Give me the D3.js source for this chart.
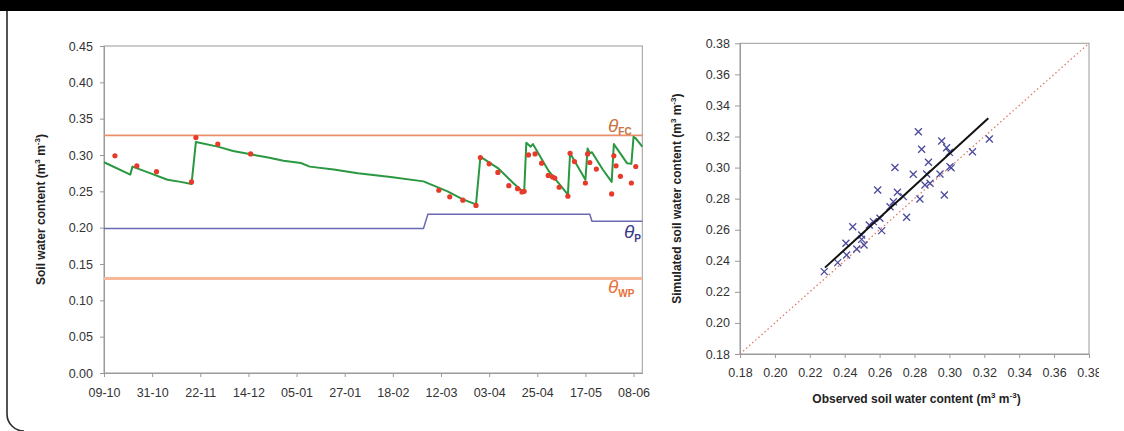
<!DOCTYPE html>
<html>
<head>
<meta charset="utf-8">
<script src="https://cdn.jsdelivr.net/npm/d3@7"></script>
<style>
  body { margin: 0; background: #fff; }
  svg { display: block; font-family: "Liberation Sans", Arial, sans-serif; }
  .axis text { font-family: "Liberation Sans", Arial, sans-serif; font-size: 12.5px; fill: #333; }
  .axis path, .axis line { stroke: #9a9a9a; }
  .title { font-size: 12px; font-weight: bold; fill: #222; }
</style>
</head>
<body>
<svg id="chart" width="1124" height="431"></svg>
<script>
// ============================================
// Soil water content: time series + simulated vs observed
// ============================================

const parseDay = d3.timeParse('%Y-%m-%d');

// x tick dates of the time series (every 22 days)
const timeTicks = ['2006-10-09', '2006-10-31', '2006-11-22', '2006-12-14', '2007-01-05', '2007-01-27',
    '2007-02-18', '2007-03-12', '2007-04-03', '2007-04-25', '2007-05-17', '2007-06-08'];
const timeDomain = ['2006-10-09', '2007-06-12'];

// simulated soil water content (green line)
const simDates = ['2006-10-09', '2006-10-21', '2006-10-22', '2006-10-30', '2006-11-07', '2006-11-13',
    '2006-11-18', '2006-11-20', '2006-11-30', '2006-12-07', '2006-12-15', '2006-12-23', '2006-12-30',
    '2007-01-07', '2007-01-11', '2007-01-22', '2007-02-02', '2007-02-17', '2007-03-04', '2007-03-15',
    '2007-03-22', '2007-03-28', '2007-03-30', '2007-03-31', '2007-04-07', '2007-04-14', '2007-04-19',
    '2007-04-20', '2007-04-22', '2007-04-23', '2007-04-30', '2007-05-04', '2007-05-09', '2007-05-10',
    '2007-05-17', '2007-05-18', '2007-05-19', '2007-05-20', '2007-05-25', '2007-05-29', '2007-05-30',
    '2007-06-05', '2007-06-07', '2007-06-08', '2007-06-09', '2007-06-12'];
const simValues = [0.290, 0.273, 0.284, 0.275, 0.266, 0.263,
    0.260, 0.318, 0.3115, 0.3056, 0.301, 0.2965, 0.292,
    0.289, 0.284, 0.280, 0.275, 0.2697, 0.2637, 0.250,
    0.239, 0.232, 0.297, 0.2956, 0.282, 0.2615, 0.248,
    0.317, 0.3115, 0.315, 0.279, 0.264, 0.2456, 0.3024,
    0.266, 0.309, 0.3024, 0.3038, 0.2797, 0.263, 0.315,
    0.2888, 0.2878, 0.325, 0.323, 0.3115];

// observed soil water content (red dots)
const obsDates = ['2006-10-14', '2006-10-24', '2006-11-02', '2006-11-18', '2006-11-20', '2006-11-30',
    '2006-12-15', '2007-03-11', '2007-03-16', '2007-03-22', '2007-03-28', '2007-03-30', '2007-04-03',
    '2007-04-07', '2007-04-12', '2007-04-16', '2007-04-18', '2007-04-19', '2007-04-21', '2007-04-24',
    '2007-04-27', '2007-04-30', '2007-05-02', '2007-05-03', '2007-05-05', '2007-05-09', '2007-05-10',
    '2007-05-12', '2007-05-17', '2007-05-18', '2007-05-19', '2007-05-22', '2007-05-29', '2007-05-30',
    '2007-05-31', '2007-06-02', '2007-06-07', '2007-06-09'];
const obsValues = [0.299, 0.285, 0.277, 0.263, 0.324, 0.315,
    0.3015, 0.2515, 0.2424, 0.2378, 0.2306, 0.2965, 0.2878,
    0.276, 0.2578, 0.2537, 0.2492, 0.250, 0.3001, 0.3015,
    0.2888, 0.2719, 0.2697, 0.2683, 0.2556, 0.2433, 0.3024,
    0.291, 0.2615, 0.3015, 0.2897, 0.2806, 0.2465, 0.2988,
    0.2851, 0.2706, 0.2615, 0.2842];

// reference levels: field capacity, wilting point, and the stepped threshold
const thetaFC = 0.327;
const thetaWP = 0.130;
const thetaPDates = ['2006-10-09', '2007-03-04', '2007-03-06', '2007-05-19', '2007-05-20', '2007-06-12'];
const thetaPValues = [0.199, 0.199, 0.2185, 0.2185, 0.209, 0.209];

// scatter: observed vs simulated
const scatterObs = [0.2283, 0.236, 0.2411, 0.2407, 0.2446, 0.2469, 0.2497, 0.2511, 0.2497, 0.2541,
    0.2564, 0.2602, 0.2612, 0.2589, 0.266, 0.2679, 0.2702, 0.2736, 0.2755, 0.2688,
    0.2793, 0.2831, 0.2822, 0.2841, 0.286, 0.2889, 0.287, 0.288, 0.2946, 0.2971,
    0.2956, 0.2984, 0.300, 0.3003, 0.3010, 0.3132, 0.3229];
const scatterSim = [0.233, 0.2388, 0.2437, 0.2513, 0.2619, 0.2476, 0.2538, 0.2502, 0.2566, 0.263,
    0.2652, 0.2674, 0.2594, 0.2856, 0.2748, 0.278, 0.2841, 0.2813, 0.268, 0.300,
    0.2957, 0.2798, 0.3231, 0.3118, 0.2888, 0.2899, 0.2959, 0.3034, 0.2959, 0.2824,
    0.3171, 0.3128, 0.3098, 0.3006, 0.2998, 0.3102, 0.3184];
const fitObs = [0.2287, 0.3223];
const fitSim = [0.2356, 0.3317];
const scatterTicks = [0.18, 0.20, 0.22, 0.24, 0.26, 0.28, 0.30, 0.32, 0.34, 0.36, 0.38];
const levelTicks = [0, 0.05, 0.10, 0.15, 0.20, 0.25, 0.30, 0.35, 0.40, 0.45];

const svg = d3.select('#chart');

// frame of the page
svg.append('rect').attr('x', 0).attr('y', 0).attr('width', 1124).attr('height', 11).attr('fill', '#000');
svg.append('path')
    .attr('d', 'M7,11 V414 A17,17 0 0 0 24,431')
    .attr('fill', 'none').attr('stroke', '#2a2a2a').attr('stroke-width', 1.6);

/**
 * Title with (m3 m-3) unit in superscripts
 */
function unitTitle(sel, label) {
    sel.append('tspan').text(label + ' (m');
    sel.append('tspan').attr('dy', -5).attr('font-size', 8).text('3');
    sel.append('tspan').attr('dy', 5).text(' m');
    sel.append('tspan').attr('dy', -5).attr('font-size', 8).text('-3');
    sel.append('tspan').attr('dy', 5).text(')');
}

// ============================================
// Left: time series
// ============================================
const x1 = d3.scaleTime().domain(timeDomain.map(parseDay)).range([104, 642.3]);
const y1 = d3.scaleLinear().domain([0, 0.45]).range([373, 46]);

svg.append('rect')
    .attr('x', x1.range()[0]).attr('y', y1(0.45))
    .attr('width', x1.range()[1] - x1.range()[0]).attr('height', y1(0) - y1(0.45))
    .attr('fill', 'none').attr('stroke', '#9a9a9a');

svg.append('g').attr('class', 'axis')
    .attr('transform', `translate(0,${y1(0)})`)
    .call(d3.axisBottom(x1).tickValues(timeTicks.map(parseDay))
        .tickFormat(d3.timeFormat('%d-%m')).tickSize(4).tickSizeOuter(0).tickPadding(11));

svg.append('g').attr('class', 'axis')
    .attr('transform', `translate(${x1.range()[0]},0)`)
    .call(d3.axisLeft(y1).tickValues(levelTicks).tickFormat(d3.format('.2f'))
        .tickSize(4).tickSizeOuter(0).tickPadding(7));

// reference lines
svg.append('line')
    .attr('x1', x1.range()[0]).attr('x2', x1.range()[1])
    .attr('y1', y1(thetaWP)).attr('y2', y1(thetaWP))
    .attr('stroke', '#f6b898').attr('stroke-width', 3);
svg.append('line')
    .attr('x1', x1.range()[0]).attr('x2', x1.range()[1])
    .attr('y1', y1(thetaFC)).attr('y2', y1(thetaFC))
    .attr('stroke', '#e8906a').attr('stroke-width', 1.6);

const lineP = d3.line().x((d, i) => x1(parseDay(thetaPDates[i]))).y(d => y1(d));
svg.append('path')
    .attr('d', lineP(thetaPValues))
    .attr('fill', 'none').attr('stroke', '#6a6ab4').attr('stroke-width', 1.5);

// simulated line
const lineSim = d3.line().x((d, i) => x1(parseDay(simDates[i]))).y(d => y1(d));
svg.append('path')
    .attr('d', lineSim(simValues))
    .attr('fill', 'none').attr('stroke', '#2a9840').attr('stroke-width', 2)
    .attr('stroke-linejoin', 'round');

// observed dots
svg.append('g').selectAll('circle')
    .data(obsValues)
    .enter()
    .append('circle')
    .attr('cx', (d, i) => x1(parseDay(obsDates[i])))
    .attr('cy', d => y1(d))
    .attr('r', 2.6)
    .attr('fill', '#e63a2a');

// theta labels
function thetaLabel(xPos, yPos, sub, color) {
    const t = svg.append('text').attr('x', xPos).attr('y', yPos).attr('fill', color);
    t.append('tspan').attr('font-style', 'italic').attr('font-size', 19).text('θ');
    t.append('tspan').attr('font-size', 10).attr('font-weight', 'bold').attr('dy', 3.5).text(sub);
}
thetaLabel(608, 131.5, 'FC', '#c8743c');
thetaLabel(624, 238, 'P', '#3a3a8c');
thetaLabel(608, 293, 'WP', '#e8703a');

// left y title
const t1 = svg.append('text').attr('class', 'title')
    .attr('transform', `translate(45,${(y1(0) + y1(0.45)) / 2}) rotate(-90)`)
    .attr('text-anchor', 'middle');
unitTitle(t1, 'Soil water content');

// ============================================
// Right: simulated vs observed
// ============================================
const x2 = d3.scaleLinear().domain([0.18, 0.38]).range([740, 1089]);
const y2 = d3.scaleLinear().domain([0.18, 0.38]).range([354, 43.3]);

const right = svg.append('g');

right.append('rect')
    .attr('x', x2(0.18)).attr('y', y2(0.38))
    .attr('width', x2(0.38) - x2(0.18)).attr('height', y2(0.18) - y2(0.38))
    .attr('fill', 'none').attr('stroke', '#9a9a9a');

right.append('g').attr('class', 'axis')
    .attr('transform', `translate(0,${y2(0.18)})`)
    .call(d3.axisBottom(x2).tickValues(scatterTicks).tickFormat(d3.format('.2f'))
        .tickSize(4).tickSizeOuter(0).tickPadding(10.5));

right.append('g').attr('class', 'axis')
    .attr('transform', `translate(${x2(0.18)},0)`)
    .call(d3.axisLeft(y2).tickValues(scatterTicks).tickFormat(d3.format('.2f'))
        .tickSize(5).tickSizeOuter(0).tickPadding(5));

// 1:1 line
right.append('line')
    .attr('x1', x2(0.18)).attr('y1', y2(0.18))
    .attr('x2', x2(0.38)).attr('y2', y2(0.38))
    .attr('stroke', '#e07a68').attr('stroke-width', 1.3)
    .attr('stroke-dasharray', '1.5,2.6');

// markers
right.append('g').selectAll('path')
    .data(scatterObs)
    .enter()
    .append('path')
    .attr('transform', (d, i) => `translate(${x2(d)},${y2(scatterSim[i])})`)
    .attr('d', 'M-3.5,-3.5L3.5,3.5M-3.5,3.5L3.5,-3.5')
    .attr('stroke', '#4a4a9c').attr('stroke-width', 1.3).attr('fill', 'none');

// regression line
right.append('line')
    .attr('x1', x2(fitObs[0])).attr('y1', y2(fitSim[0]))
    .attr('x2', x2(fitObs[1])).attr('y2', y2(fitSim[1]))
    .attr('stroke', '#111').attr('stroke-width', 2);

const t2 = right.append('text').attr('class', 'title')
    .attr('transform', `translate(681,${(y2(0.18) + y2(0.38)) / 2}) rotate(-90)`)
    .attr('text-anchor', 'middle');
unitTitle(t2, 'Simulated soil water content');

const t3 = right.append('text').attr('class', 'title')
    .attr('x', (x2(0.18) + x2(0.38)) / 2 + 2).attr('y', 403)
    .attr('text-anchor', 'middle');
unitTitle(t3, 'Observed soil water content');

// the source picture is cut off on the right
svg.append('rect').attr('x', 1099).attr('y', 11).attr('width', 25).attr('height', 420).attr('fill', '#fff');
</script>
</body>
</html>
